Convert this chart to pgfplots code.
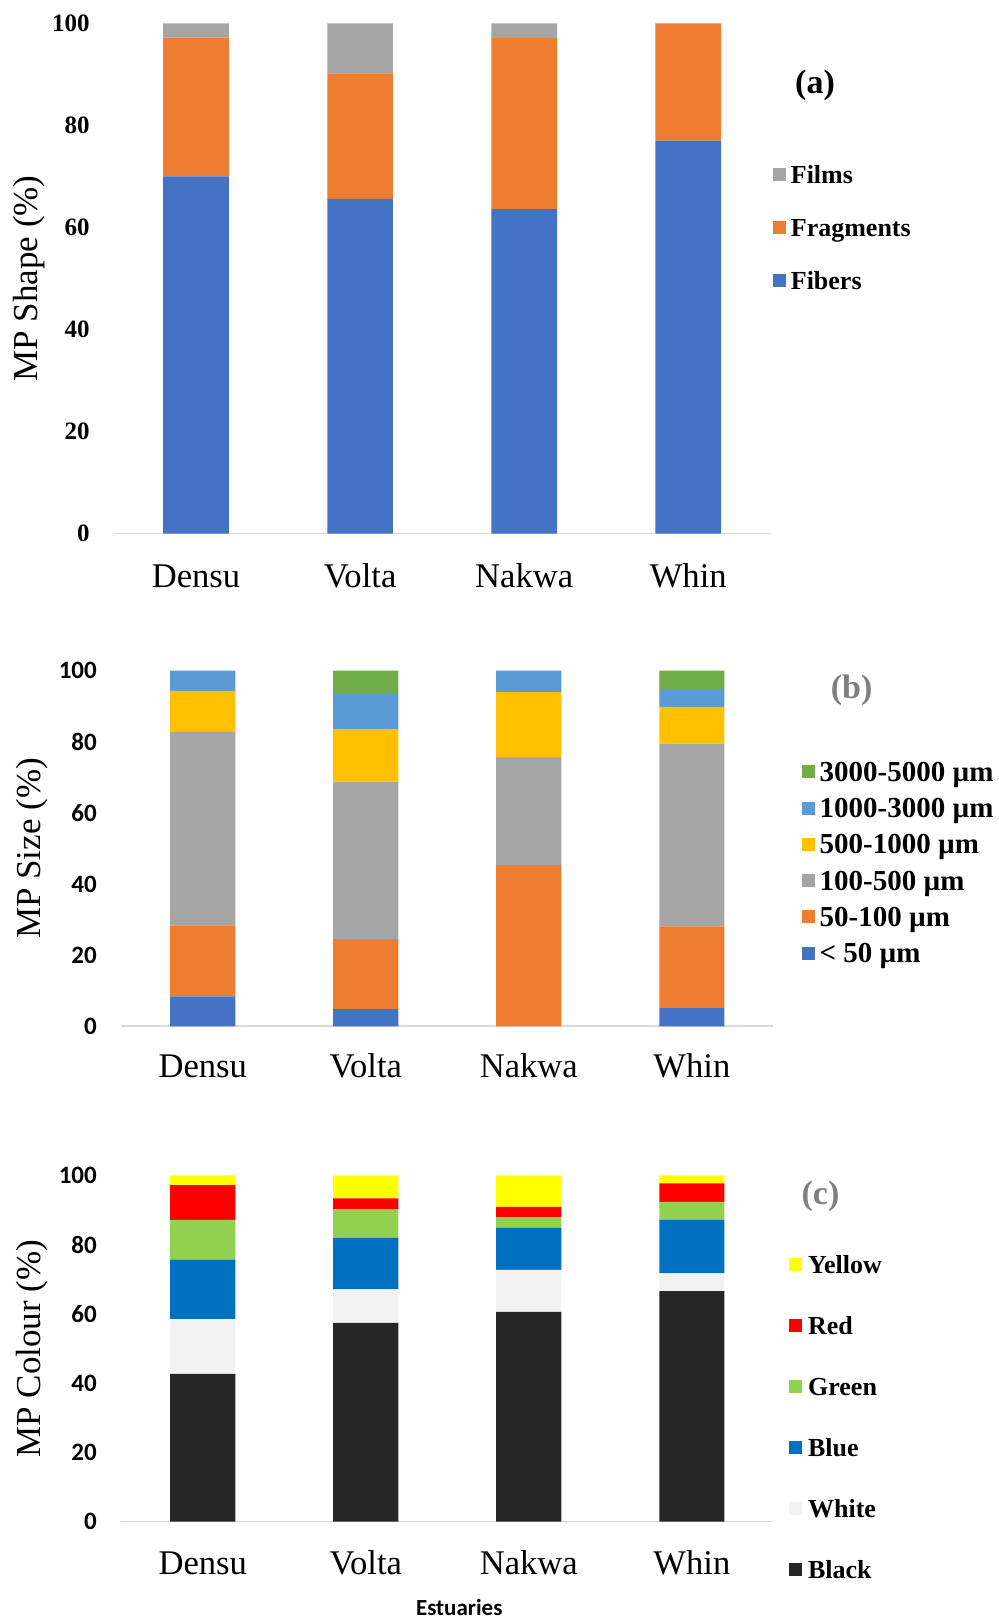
\documentclass[border=0pt]{standalone}
\usepackage{fontspec}
\setmainfont{Liberation Serif}
\newfontfamily\calibri{Carlito}
\usepackage{pgfplots}
\pgfplotsset{compat=1.18}

\definecolor{cFib}{HTML}{4472C4}
\definecolor{cFrag}{HTML}{ED7D31}
\definecolor{cFilm}{HTML}{A5A5A5}
\definecolor{cGold}{HTML}{FFC000}
\definecolor{cSky}{HTML}{5B9BD5}
\definecolor{cLeaf}{HTML}{70AD47}
\definecolor{kBlack}{HTML}{262626}
\definecolor{kWhite}{HTML}{F2F2F2}
\definecolor{kBlue}{HTML}{0070C0}
\definecolor{kGreen}{HTML}{92D050}
\definecolor{kRed}{HTML}{FF0000}
\definecolor{kYellow}{HTML}{FFFF00}
\definecolor{baseLine}{HTML}{D9D9D9}
\definecolor{tagGray}{HTML}{7F7F7F}

\pgfplotsset{
  estuary/.style={
    scale only axis,
    ybar stacked,
    bar width=0.4,
    xmin=-0.5, xmax=3.5,
    ymin=0, ymax=100,
    enlargelimits=false,
    xtick={0,1,2,3},
    xticklabels={Densu,Volta,Nakwa,Whin},
    ytick={0,20,40,60,80,100},
    major tick length=0pt,
    axis x line*=bottom,
    axis y line*=left,
    x axis line style={-, draw=baseLine, line width=0.8pt},
    y axis line style={draw=none},
    /pgf/number format/assume math mode=true,
    xticklabel style={font=\fontsize{17.3}{20}\selectfont, anchor=base, inner sep=0pt},
    yticklabel style={anchor=east, inner sep=0pt, xshift=-12pt},
    every axis y label/.style={rotate=90, anchor=center,
      font=\fontsize{17.5}{20}\selectfont},
    legend cell align=left,
    reverse legend,
    % small square swatch, centred on the capital height of the entry text
    legend image code/.code={\fill[##1] (0pt,-2.45pt) rectangle (6.5pt,4.05pt);},
  },
}

\begin{document}
\begin{tikzpicture}
\useasboundingbox (0pt,0pt) rectangle (499.5pt,811pt);

% (a) particle shape
\begin{axis}[estuary,
  at={(57pt,544.2pt)}, anchor=south west,
  width=328.15pt, height=255.15pt,
  xticklabel style={yshift=-26.9pt},
  yticklabel style={font=\bfseries\fontsize{12.5}{14}\selectfont},
  ylabel={MP Shape (\%)},
  ylabel style={at={(axis description cs:-0.1298,0.5)}},
  legend style={draw=none, fill=none, inner sep=0pt, outer sep=0pt,
    row sep=13.5pt, column sep=2.6pt,
    nodes={inner sep=0pt, outer sep=0pt, text height=10pt, text depth=3pt},
    font=\bfseries\fontsize{13}{15}\selectfont,
    at={(axis description cs:1.0036,0.7260)}, anchor=north west},
]
\addplot[fill=cFib, draw=none] coordinates {(0,70.0) (1,65.6) (2,63.6) (3,77.0)};
\addlegendentry{Fibers}
\addplot[fill=cFrag, draw=none] coordinates {(0,27.2) (1,24.6) (2,33.5) (3,23.0)};
\addlegendentry{Fragments}
\addplot[fill=cFilm, draw=none] coordinates {(0,2.8) (1,9.8) (2,2.9) (3,0)};
\addlegendentry{Films}
\end{axis}

% (b) particle size
\begin{axis}[estuary,
  at={(60.6pt,297.85pt)}, anchor=south west,
  width=326.1pt, height=177.8pt,
  xticklabel style={yshift=-25.5pt},
  yticklabel style={font=\calibri\bfseries\fontsize{12.5}{14}\selectfont},
  ylabel={MP Size (\%)},
  ylabel style={at={(axis description cs:-0.1372,0.5)}},
  legend style={draw=none, fill=none, inner sep=0pt, outer sep=0pt,
    row sep=4.15pt, column sep=2.5pt,
    nodes={inner sep=0pt, outer sep=0pt, text height=11pt, text depth=3pt},
    font=\bfseries\fontsize{14.5}{17}\selectfont,
    at={(axis description cs:1.0434,0.7508)}, anchor=north west},
]
\addplot[fill=cFib, draw=none] coordinates {(0,8.4) (1,4.8) (2,0) (3,5.1)};
\addlegendentry{< 50 µm}
\addplot[fill=cFrag, draw=none] coordinates {(0,20.0) (1,19.7) (2,45.3) (3,23.0)};
\addlegendentry{50-100 µm}
\addplot[fill=cFilm, draw=none] coordinates {(0,54.4) (1,44.3) (2,30.4) (3,51.4)};
\addlegendentry{100-500 µm}
\addplot[fill=cGold, draw=none] coordinates {(0,11.5) (1,14.8) (2,18.3) (3,10.3)};
\addlegendentry{500-1000 µm}
\addplot[fill=cSky, draw=none] coordinates {(0,5.7) (1,9.8) (2,6.0) (3,5.0)};
\addlegendentry{1000-3000 µm}
\addplot[fill=cLeaf, draw=none] coordinates {(0,0) (1,6.6) (2,0) (3,5.2)};
\addlegendentry{3000-5000 µm}
\end{axis}

% (c) particle colour
\begin{axis}[estuary,
  at={(60.6pt,50.25pt)}, anchor=south west,
  width=326.1pt, height=173pt,
  xticklabel style={yshift=-26.7pt},
  yticklabel style={font=\calibri\bfseries\fontsize{12.5}{14}\selectfont},
  ylabel={MP Colour (\%)},
  ylabel style={at={(axis description cs:-0.1372,0.5)}},
  xlabel={Estuaries},
  xlabel style={at={(axis description cs:0.5183,-0.2723)}, anchor=base,
    inner sep=0pt, font=\calibri\bfseries\fontsize{11.5}{14}\selectfont},
  legend style={draw=none, fill=none, inner sep=0pt, outer sep=0pt,
    row sep=17.45pt, column sep=2.9pt,
    nodes={inner sep=0pt, outer sep=0pt, text height=10pt, text depth=3pt},
    font=\bfseries\fontsize{13}{15}\selectfont,
    at={(axis description cs:1.0244,0.7743)}, anchor=north west},
]
\addplot[fill=kBlack, draw=none] coordinates {(0,42.7) (1,57.4) (2,60.6) (3,66.6)};
\addlegendentry{Black}
\addplot[fill=kWhite, draw=none] coordinates {(0,15.8) (1,9.7) (2,12.1) (3,5.1)};
\addlegendentry{White}
\addplot[fill=kBlue, draw=none] coordinates {(0,17.2) (1,14.9) (2,12.2) (3,15.5)};
\addlegendentry{Blue}
\addplot[fill=kGreen, draw=none] coordinates {(0,11.5) (1,8.3) (2,3.0) (3,5.2)};
\addlegendentry{Green}
\addplot[fill=kRed, draw=none] coordinates {(0,10.0) (1,3.1) (2,3.0) (3,5.3)};
\addlegendentry{Red}
\addplot[fill=kYellow, draw=none] coordinates {(0,2.8) (1,6.6) (2,9.1) (3,2.3)};
\addlegendentry{Yellow}
\end{axis}

% panel tags
\node[font=\bfseries\fontsize{17}{20}\selectfont] at (407.5pt,768.5pt) {(a)};
\node[font=\bfseries\fontsize{17}{20}\selectfont, text=tagGray] at (425.8pt,466pt) {(b)};
\node[font=\bfseries\fontsize{17}{20}\selectfont, text=tagGray] at (410.25pt,213pt) {(c)};
\end{tikzpicture}
\end{document}
